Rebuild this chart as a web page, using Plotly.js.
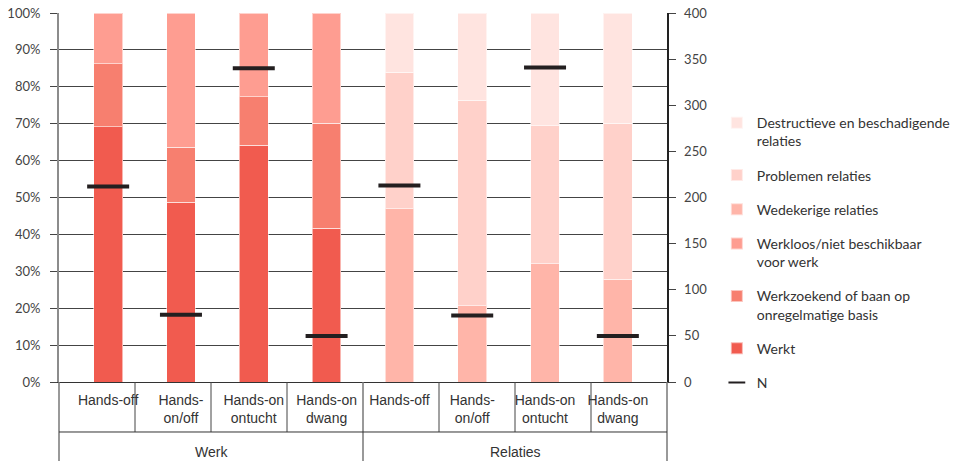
<!DOCTYPE html>
<html>
<head>
<meta charset="utf-8">
<script src="https://cdn.plot.ly/plotly-3.0.1.min.js"></script>
<style>html,body{margin:0;padding:0;background:#fff;}#chart{width:966px;height:461px;}</style>
</head>
<body>
<div id="chart"></div>
<script>
// ---- data ----
const groups = ['Werk', 'Relaties'];
const categories = ['Hands-off', 'Hands-<br>on/off', 'Hands-on<br>ontucht', 'Hands-on<br>dwang'];
const pctTicks = [0, 10, 20, 30, 40, 50, 60, 70, 80, 90, 100];
const nTicks = [0, 50, 100, 150, 200, 250, 300, 350, 400];

// Werk (percent)
const werkt        = [69.2, 48.7, 64.1, 41.7];
const werkzoekend  = [17.1, 14.9, 13.2, 28.4];
const werkloos     = [13.7, 36.4, 22.7, 29.9];
// Relaties (percent)
const wederkerig   = [46.9, 20.6, 32.0, 27.8];
const problemen    = [37.1, 55.8, 37.4, 42.3];
const destructief  = [16.0, 23.6, 30.6, 29.9];
// N (right axis)
const nWerk     = [212, 73, 340, 50];
const nRelaties = [213, 72, 341, 50];

const seriesNames = {
  werkt: 'Werkt',
  werkzoekend: 'Werkzoekend of baan op<br>onregelmatige basis',
  werkloos: 'Werkloos/niet beschikbaar<br>voor werk',
  wederkerig: 'Wedekerige relaties',
  problemen: 'Problemen relaties',
  destructief: 'Destructieve en beschadigende<br>relaties',
  n: 'N'
};

// ---- build ----
const xWerk = categories.map(c => 'Werk|' + c);
const xRel  = categories.map(c => 'Relaties|' + c);
const allX  = xWerk.concat(xRel);
const ticktext = categories.concat(categories);

const lineStyle = {color: 'rgba(255,255,255,0.55)', width: 1};
function bar(x, y, name, color, rank) {
  return {type: 'bar', x: x, y: y, name: name, legendgroup: 'g' + rank, legendrank: rank,
    marker: {color: color, line: lineStyle}, hoverinfo: 'skip'};
}

const traces = [
  bar(xWerk, werkt, seriesNames.werkt, '#f15b4f', 6),
  bar(xWerk, werkzoekend, seriesNames.werkzoekend, '#f77f6f', 5),
  bar(xWerk, werkloos, seriesNames.werkloos, '#fe9d91', 4),
  bar(xRel, wederkerig, seriesNames.wederkerig, '#ffb5a9', 3),
  bar(xRel, problemen, seriesNames.problemen, '#ffd1ca', 2),
  bar(xRel, destructief, seriesNames.destructief, '#ffe4e0', 1),
  {type: 'scatter', mode: 'markers', x: allX, y: nWerk.concat(nRelaties), yaxis: 'y2',
    name: seriesNames.n, legendgroup: 'g7', legendrank: 7,
    marker: {symbol: 'line-ew', size: 30, color: '#231f20', line: {color: '#231f20', width: 4}},
    hoverinfo: 'skip'}
];

// table lines under the axis
const shapes = [];
const nCat = allX.length;
for (let i = 0; i <= nCat; i++) {
  const xp = i / nCat;
  const isGroupEdge = (i % 4 === 0);
  shapes.push({type: 'line', xref: 'paper', yref: 'paper', x0: xp, x1: xp,
    y0: 0, y1: isGroupEdge ? -0.215 : -0.1355,
    line: {color: isGroupEdge ? '#777' : '#444', width: isGroupEdge ? 1.5 : 1}});
}
shapes.push({type: 'line', xref: 'paper', yref: 'paper', x0: 0, x1: 1, y0: -0.1355, y1: -0.1355,
  line: {color: '#333', width: 1}});

const annotations = groups.map((g, i) => ({
  xref: 'paper', yref: 'paper', x: (i * 4 + 2) / nCat, y: -0.19, text: g, showarrow: false,
  xanchor: 'center', yanchor: 'middle',
  font: {family: 'Liberation Sans Narrow, Arial Narrow, sans-serif', size: 14, color: '#333'}
}));

const layout = {
  width: 966, height: 461,
  margin: {l: 59, r: 299, t: 13, b: 79, autoexpand: false},
  paper_bgcolor: '#fff', plot_bgcolor: '#fff',
  barmode: 'stack', bargap: 0.605,
  font: {family: 'Lato, "Open Sans", sans-serif', color: '#333'},
  xaxis: {
    type: 'category', categoryorder: 'array', categoryarray: allX,
    tickvals: allX, ticktext: ticktext,
    tickfont: {family: 'Liberation Sans Narrow, Arial Narrow, sans-serif', size: 14, color: '#333'},
    showgrid: false, showline: true, linecolor: '#333', linewidth: 1,
    ticks: '', ticklabelstandoff: 5, zeroline: false
  },
  yaxis: {
    range: [0, 100], tickmode: 'array', tickvals: pctTicks, ticktext: pctTicks.map(v => v + '%'),
    tickfont: {size: 13, color: '#444'},
    showgrid: true, gridcolor: '#444', gridwidth: 1,
    showline: true, linecolor: '#8c8c8c', linewidth: 2,
    ticks: 'outside', ticklen: 7, tickcolor: '#444', zeroline: false, ticklabelstandoff: 7
  },
  yaxis2: {
    overlaying: 'y', side: 'right', range: [0, 400],
    tickmode: 'array', tickvals: nTicks, ticktext: nTicks.map(String),
    tickfont: {size: 13, color: '#444'},
    showgrid: false, showline: true, linecolor: '#222', linewidth: 1.5,
    ticks: 'outside', ticklen: 7, tickcolor: '#444', zeroline: false, ticklabelstandoff: 6
  },
  showlegend: true,
  legend: {
    x: 1.082, xanchor: 'left', y: 0.745, yanchor: 'top',
    traceorder: 'grouped', tracegroupgap: 13, valign: 'top', itemsizing: 'constant',
    font: {size: 14, color: '#333'}, bgcolor: 'rgba(0,0,0,0)'
  },
  shapes: shapes,
  annotations: annotations
};

Plotly.newPlot('chart', traces, layout, {staticPlot: true, displayModeBar: false});
</script>
</body>
</html>
